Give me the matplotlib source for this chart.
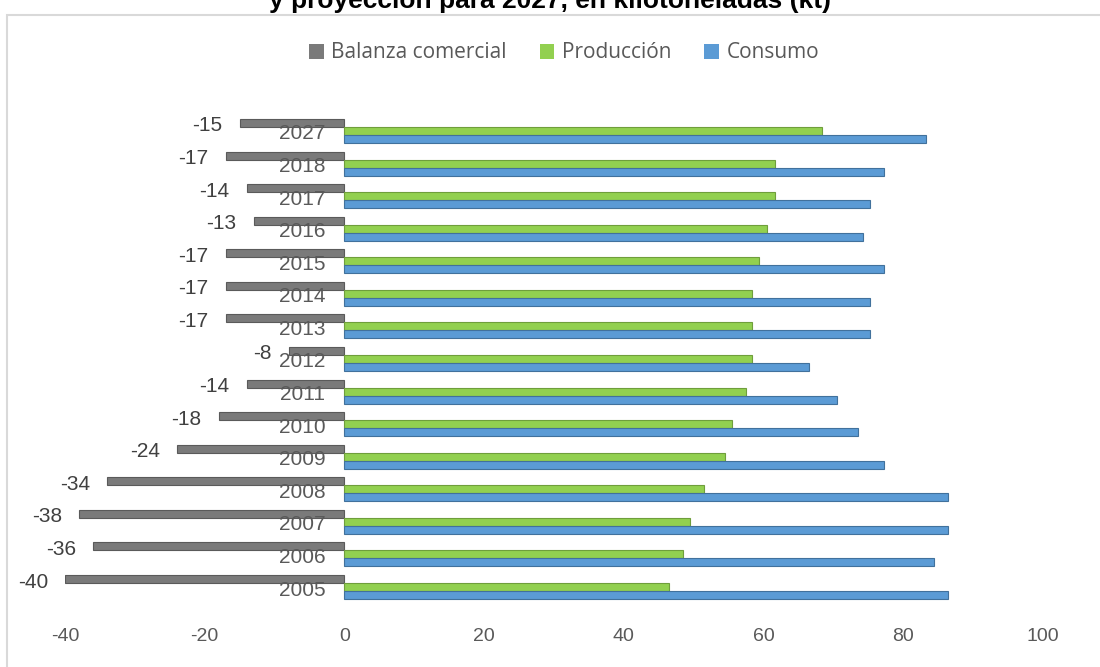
import matplotlib
matplotlib.use("Agg")
import matplotlib.pyplot as plt
from matplotlib.patches import Patch, Rectangle
import numpy as np

years = ["2005", "2006", "2007", "2008", "2009", "2010", "2011", "2012",
         "2013", "2014", "2015", "2016", "2017", "2018", "2027"]
balanza = [-40, -36, -38, -34, -24, -18, -14, -8, -17, -17, -17, -13, -14, -17, -15]
produccion = [46.5, 48.5, 49.5, 51.5, 54.5, 55.5, 57.5, 58.3, 58.3, 58.3, 59.4, 60.5, 61.6, 61.6, 68.4]
consumo = [86.4, 84.4, 86.4, 86.4, 77.3, 73.5, 70.5, 66.5, 75.3, 75.3, 77.3, 74.3, 75.3, 77.3, 83.2]
series_names = ["Balanza comercial", "Producción", "Consumo"]
xticks = [-40, -20, 0, 20, 40, 60, 80, 100]
title = "y proyección para 2027, en kilotoneladas (kt)"

c_gray, c_green, c_blue = "#7a7a7a", "#92d050", "#5b9bd5"
e_gray, e_green, e_blue = "#5a5a5a", "#6f9e3c", "#41719c"
txt = "#595959"

W, H = 1100, 667
fig = plt.figure(figsize=(W / 100, H / 100), dpi=100)
fig.patch.set_facecolor("white")

# chart border
fig.add_artist(Rectangle((7 / W, -0.05), 1.2, 1 - 15 / H + 0.05, transform=fig.transFigure,
                         fill=False, edgecolor="#d9d9d9", linewidth=1.5))

fig.text(0.5, 1 - 8 / H, title, ha="center", va="baseline", fontsize=19,
         fontweight="bold", family="Liberation Sans", color="black")

left, right = 65 / W, 1043 / W
top_px, bot_px = 114.7, 603.3
ax = fig.add_axes([left, 1 - bot_px / H, right - left, (bot_px - top_px) / H])

y = np.arange(len(years))
h = 0.246
ax.barh(y + h, balanza, height=h, color=c_gray, edgecolor=e_gray, linewidth=0.8)
ax.barh(y, produccion, height=h, color=c_green, edgecolor=e_green, linewidth=0.8)
ax.barh(y - h, consumo, height=h, color=c_blue, edgecolor=e_blue, linewidth=0.8)

ax.set_xlim(-40, 100)
ax.set_ylim(-0.5, len(years) - 0.5)
ax.set_xticks(xticks)
ax.set_xticklabels([str(v) for v in xticks], fontsize=14, color=txt, family="Liberation Sans")
ax.tick_params(axis="x", length=0, pad=18)
ax.set_yticks([])
for s in ax.spines.values():
    s.set_visible(False)

for yi, lab in zip(y, years):
    ax.annotate(lab, xy=(0, yi), xytext=(-19, -3), textcoords="offset pixels",
                ha="right", va="center", fontsize=15, color=txt, family="Liberation Sans")

for yi, v in zip(y, balanza):
    ax.annotate(str(v), xy=(v, yi + h), xytext=(-17, -3), textcoords="offset pixels",
                ha="right", va="center", fontsize=15, color="#404040", family="Liberation Sans")

handles = [Patch(facecolor=c, edgecolor="none") for c in (c_gray, c_green, c_blue)]
fig.legend(handles, series_names, loc="center", bbox_to_anchor=(564 / W, 1 - 53 / H),
           ncol=3, frameon=False, handlelength=0.7, handleheight=0.7,
           handletextpad=0.35, columnspacing=1.6, labelcolor=txt,
           prop={"family": "Open Sans", "size": 15})

fig.savefig("out.png", dpi=100)
